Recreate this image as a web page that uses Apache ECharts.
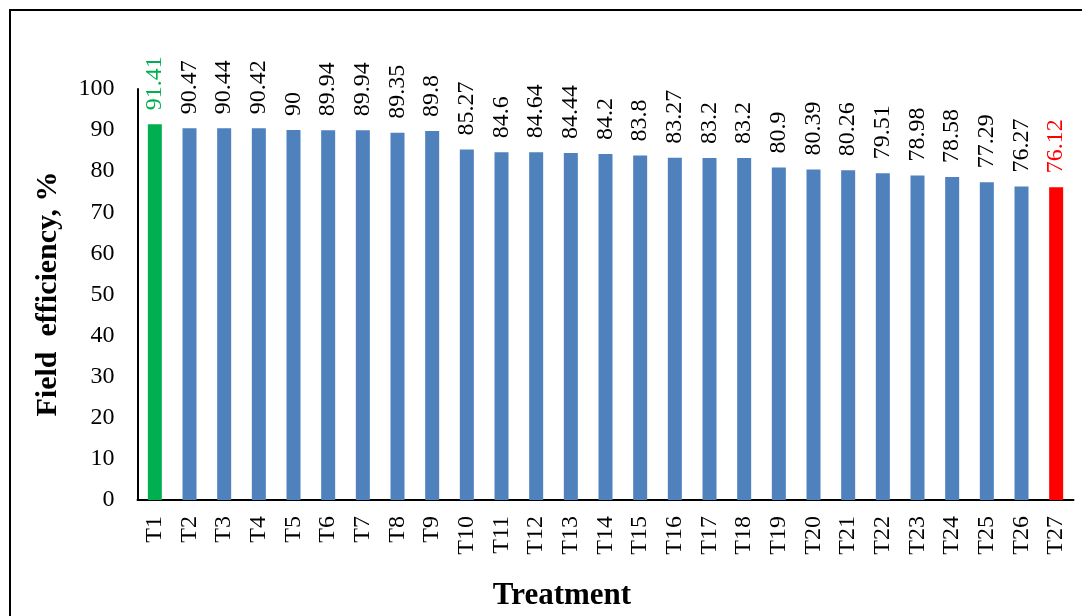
<!DOCTYPE html>
<html>
<head>
<meta charset="utf-8">
<script src="https://cdn.jsdelivr.net/npm/echarts@6/dist/echarts.min.js"></script>
<style>
html,body{margin:0;padding:0;background:#fff;}
#chart{width:1082px;height:616px;}
</style>
</head>
<body>
<div id="chart"></div>
<script>
const categories = ['T1','T2','T3','T4','T5','T6','T7','T8','T9','T10','T11','T12','T13','T14','T15','T16','T17','T18','T19','T20','T21','T22','T23','T24','T25','T26','T27'];
const efficiency = [91.41,90.47,90.44,90.42,90,89.94,89.94,89.35,89.8,85.27,84.6,84.64,84.44,84.2,83.8,83.27,83.2,83.2,80.9,80.39,80.26,79.51,78.98,78.58,77.29,76.27,76.12];
const yTitle = 'Field  efficiency, %';
const xTitle = 'Treatment';

const FONT = "'Liberation Serif','Times New Roman',serif";
const BLUE = '#4F81BD', GREEN = '#00B050', RED = '#FF0000';
const maxIdx = efficiency.indexOf(Math.max(...efficiency));
const minIdx = efficiency.lastIndexOf(Math.min(...efficiency));

const data = efficiency.map((v, i) => {
  const c = i === maxIdx ? GREEN : (i === minIdx ? RED : BLUE);
  return {
    value: v,
    itemStyle: { color: c },
    label: { color: c === BLUE ? '#000' : c }
  };
});

const chart = echarts.init(document.getElementById('chart'), null, { renderer: 'canvas' });
chart.setOption({
  animation: false,
  backgroundColor: '#fff',
  grid: { left: 137.5, right: 8.5, top: 89, bottom: 116, containLabel: false },
  xAxis: {
    type: 'category',
    data: categories,
    axisLine: { lineStyle: { color: '#000', width: 2 } },
    axisTick: { show: false },
    axisLabel: { rotate: 90, margin: 16, color: '#000', fontSize: 24, fontFamily: FONT, interval: 0 }
  },
  yAxis: {
    type: 'value',
    min: 0, max: 100, interval: 10,
    splitLine: { show: false },
    axisLine: { show: true, lineStyle: { color: '#000', width: 2 } },
    axisTick: { show: false },
    axisLabel: { margin: 23, color: '#000', fontSize: 24, fontFamily: FONT }
  },
  series: [{
    type: 'bar',
    data: data,
    barWidth: 14,
    label: {
      show: true,
      position: 'top',
      rotate: 90,
      align: 'left',
      verticalAlign: 'middle',
      distance: 14,
      fontSize: 24,
      fontFamily: FONT
    }
  }],
  graphic: [
    { type: 'rect', shape: { x: 10, y: 10, width: 1200, height: 1000 }, style: { fill: 'none', stroke: '#000', lineWidth: 2 }, silent: true },
    { type: 'text', x: 48, y: 294, rotation: Math.PI / 2,
      style: { text: yTitle, fontSize: 30, fontWeight: 'bold', fontFamily: FONT, fill: '#000', align: 'center', verticalAlign: 'middle' } },
    { type: 'text', x: 562, y: 596,
      style: { text: xTitle, fontSize: 31, fontWeight: 'bold', fontFamily: FONT, fill: '#000', align: 'center', verticalAlign: 'middle' } }
  ]
});
</script>
</body>
</html>
